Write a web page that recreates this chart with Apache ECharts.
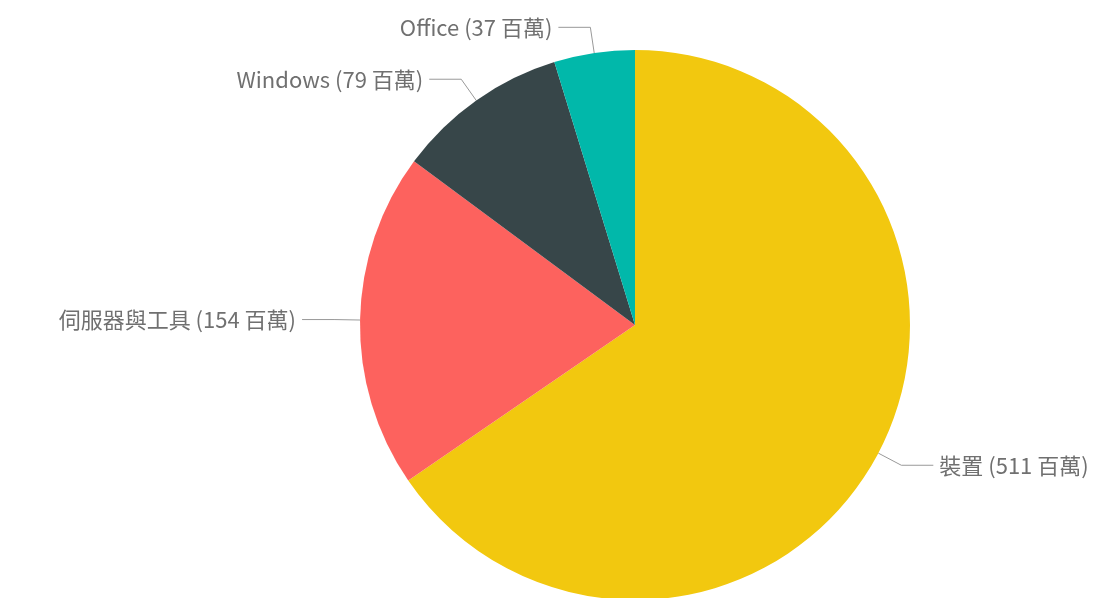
<!DOCTYPE html>
<html>
<head>
<meta charset="utf-8">
<script src="https://cdn.jsdelivr.net/npm/echarts@6/dist/echarts.min.js"></script>
<style>
  html, body { margin: 0; padding: 0; background: #fff; }
  #main { width: 1117px; height: 598px; }
</style>
</head>
<body>
<div id="main"></div>
<script>
// 資料
const categories = ['裝置', '伺服器與工具', 'Windows', 'Office']
const values = [511, 154, 79, 37]
const colors = ['#F2C80F', '#FD625E', '#374649', '#01B8AA']

let chart = echarts.init(document.getElementById('main'))
let seriesData = []
for (let i = 0; i < categories.length; i++) {
  seriesData.push({ name: categories[i], value: values[i] })
}

chart.setOption({
  animation: false,
  color: colors,
  series: [
    {
      type: 'pie',
      center: [635, 325],
      radius: 275,
      startAngle: 90,
      clockwise: true,
      data: seriesData,
      label: {
        show: true,
        position: 'outside',
        formatter: '{b} ({c} 百萬)',
        color: '#707070',
        fontSize: 22,
        fontFamily: 'Noto Sans CJK TC',
        distanceToLabelLine: 6
      },
      labelLine: {
        show: true,
        length: 26,
        length2: 32,
        lineStyle: { color: '#999999', width: 1 }
      }
    }
  ]
})
</script>
</body>
</html>
